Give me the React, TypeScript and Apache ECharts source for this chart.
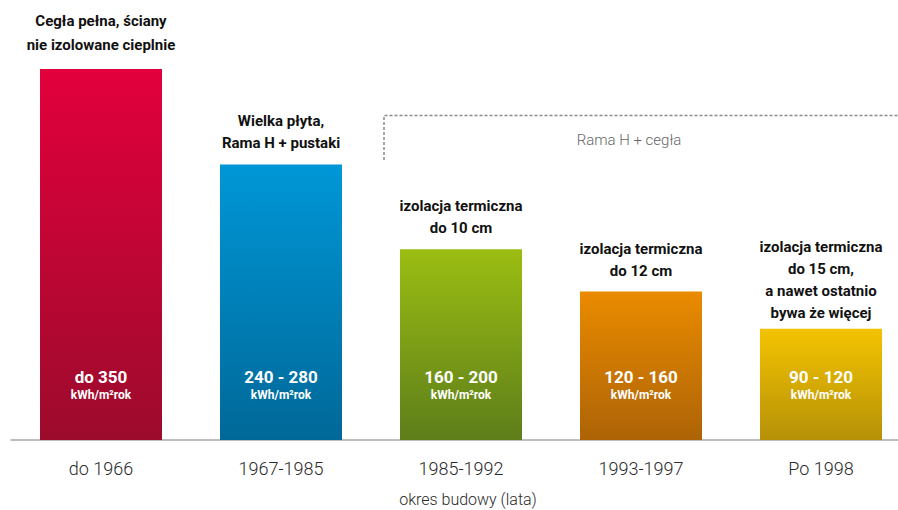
import React, { useEffect, useRef } from "react";
import * as echarts from "echarts";

const categories = ["do 1966", "1967-1985", "1985-1992", "1993-1997", "Po 1998"];
const values = [350, 260, 180, 140, 105];
const rangeLabels = ["do 350", "240 - 280", "160 - 200", "120 - 160", "90 - 120"];
const unitLabel = "kWh/m²rok";
const descriptions = [
  "Cegła pełna, ściany\nnie izolowane cieplnie",
  "Wielka płyta,\nRama H + pustaki",
  "izolacja termiczna\ndo 10 cm",
  "izolacja termiczna\ndo 12 cm",
  "izolacja termiczna\ndo 15 cm,\na nawet ostatnio\nbywa że więcej",
];
const gradientTop = ["#e2003c", "#0097d7", "#9bbd12", "#ea8b00", "#f3c300"];
const gradientBottom = ["#9c0b2c", "#006898", "#5d7e1a", "#ad6306", "#b69108"];
const xAxisTitle = "okres budowy (lata)";
const groupLabel = "Rama H + cegła";

const FONT = "Roboto, 'Noto Sans', sans-serif";

export default function App() {
  const ref = useRef<HTMLDivElement>(null);
  useEffect(() => {
    if (!ref.current) return;
    const chart = echarts.init(ref.current, undefined, { renderer: "svg" });
    chart.setOption({
      animation: false,
      grid: { left: 11, top: 69, width: 900, bottom: 70, outerBoundsMode: "none", containLabel: false },
      xAxis: {
        type: "category",
        data: categories,
        axisLine: { lineStyle: { color: "#a8a8a8", width: 1.5 } },
        axisTick: { show: false },
        axisLabel: { color: "#2a2a2a", fontSize: 18, fontWeight: 300, fontFamily: FONT, margin: 19 },
        name: xAxisTitle,
        nameLocation: "middle",
        nameGap: 51,
        nameTextStyle: {
          color: "#2a2a2a",
          fontSize: 16,
          fontWeight: 300,
          fontFamily: FONT,
          padding: [0, 0, 0, 14],
        },
      },
      yAxis: { type: "value", min: 0, max: 350, show: false },
      series: [
        {
          type: "bar",
          barWidth: 122,
          data: values.map((v, i) => ({
            value: v,
            itemStyle: {
              color: new echarts.graphic.LinearGradient(0, 0, 0, 1, [
                { offset: 0, color: gradientTop[i] },
                { offset: 1, color: gradientBottom[i] },
              ]),
            },
          })),
          label: {
            show: true,
            position: "insideBottom",
            distance: 37,
            formatter: (p: any) => `{a|${rangeLabels[p.dataIndex]}}\n{b|${unitLabel}}`,
            rich: {
              a: { color: "#fff", fontSize: 17, fontWeight: "bold", fontFamily: FONT, lineHeight: 20 },
              b: { color: "#fff", fontSize: 12, fontWeight: "bold", fontFamily: FONT, lineHeight: 16 },
            },
          },
        },
        {
          type: "bar",
          barWidth: 122,
          barGap: "-100%",
          silent: true,
          itemStyle: { color: "rgba(0,0,0,0)" },
          data: values.map((v, i) => ({
            value: v,
            label: { distance: i === 0 ? 12 : i === 4 ? 5 : 10, lineHeight: i === 0 ? 24 : 22 },
          })),
          label: {
            show: true,
            position: "top",
            formatter: (p: any) => descriptions[p.dataIndex],
            color: "#111",
            fontSize: 15,
            fontWeight: "bold",
            fontFamily: FONT,
            lineHeight: 22,
            align: "center",
          },
          z: 3,
        },
      ],
      graphic: [
        {
          type: "polyline",
          shape: { points: [[384, 160], [384, 115.5], [898, 115.5]] },
          style: { stroke: "#8a8a8a", lineWidth: 1.5, lineDash: [3, 2], fill: null },
          silent: true,
        },
        {
          type: "text",
          x: 629,
          y: 140,
          style: {
            text: groupLabel,
            fill: "#666",
            fontSize: 15,
            fontWeight: 300,
            fontFamily: FONT,
            align: "center",
            verticalAlign: "middle",
          },
        },
      ],
    });
    return () => chart.dispose();
  }, []);
  return (
    <div
      ref={ref}
      style={{ position: "fixed", left: 0, top: 0, width: 898, height: 510, background: "#fff" }}
    />
  );
}
